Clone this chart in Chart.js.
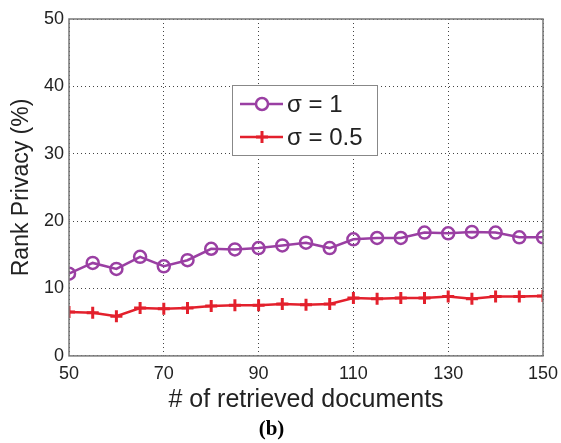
<!DOCTYPE html>
<html>
<head>
<meta charset="utf-8">
<script src="https://cdn.jsdelivr.net/npm/chart.js@4.4.1/dist/chart.umd.min.js"></script>
<style>
  html, body { margin: 0; padding: 0; background: #fff; }
  #wrap { width: 561px; height: 443px; }
</style>
</head>
<body>
<div id="wrap"><canvas id="privacyChart"></canvas></div>
<script>
// values
const docs = [50, 55, 60, 65, 70, 75, 80, 85, 90, 95, 100, 105, 110, 115, 120, 125, 130, 135, 140, 145, 150];
const sigmaOne = [12.2, 13.8, 12.9, 14.7, 13.3, 14.2, 15.9, 15.8, 16.0, 16.4, 16.8, 16.0, 17.3, 17.5, 17.5, 18.3, 18.2, 18.4, 18.3, 17.6, 17.6];
const sigmaHalf = [6.5, 6.4, 5.9, 7.1, 7.0, 7.1, 7.4, 7.5, 7.5, 7.7, 7.6, 7.7, 8.6, 8.5, 8.6, 8.6, 8.8, 8.5, 8.8, 8.8, 8.9];
const seriesLabels = ['σ = 1', 'σ = 0.5'];
const xTicks = [50, 70, 90, 110, 130, 150];
const yTicks = [0, 10, 20, 30, 40, 50];

const purple = '#9a3fa3';
const red = '#e3202c';

function toPoints(values) {
  return values.map((v, i) => ({ x: docs[i], y: v }));
}

// box round the plot area, like matlab "box on"
const boxPlugin = {
  id: 'box',
  afterDatasetsDraw(chart) {
    const { ctx, chartArea: a } = chart;
    ctx.save();
    ctx.strokeStyle = '#777';
    ctx.lineWidth = 1.5;
    ctx.strokeRect(a.left, a.top, a.right - a.left, a.bottom - a.top);
    ctx.restore();
  }
};

// legend box inside the plot
const legendPlugin = {
  id: 'insideLegend',
  afterDraw(chart) {
    const { ctx } = chart;
    const x0 = 232, y0 = 85, w = 145, h = 70;
    ctx.save();
    ctx.fillStyle = '#fff';
    ctx.fillRect(x0, y0, w, h);
    ctx.strokeStyle = '#888';
    ctx.lineWidth = 1;
    ctx.strokeRect(x0 + 0.5, y0 + 0.5, w, h);
    chart.data.datasets.forEach((ds, i) => {
      const y = y0 + 19 + i * 33;
      ctx.strokeStyle = ds.borderColor;
      ctx.lineWidth = ds.borderWidth;
      ctx.beginPath();
      ctx.moveTo(x0 + 8, y);
      ctx.lineTo(x0 + 51, y);
      ctx.stroke();
      ctx.lineWidth = ds.pointBorderWidth;
      Chart.helpers.drawPoint(ctx, {
        pointStyle: ds.pointStyle,
        radius: ds.pointRadius,
        rotation: 0,
        borderWidth: ds.pointBorderWidth
      }, x0 + 30, y);
      ctx.fillStyle = '#222';
      ctx.font = '24px "Liberation Sans", Arial, sans-serif';
      ctx.textBaseline = 'middle';
      ctx.fillText(ds.label, x0 + 55, y + 1);
    });
    ctx.restore();
  }
};

const tickFont = { family: '"Liberation Sans", Arial, sans-serif', size: 18 };
const xTitleFont = { family: '"Liberation Sans", Arial, sans-serif', size: 25, lineHeight: 1 };
const yTitleFont = { family: '"Liberation Sans", Arial, sans-serif', size: 23, lineHeight: 1 };

new Chart(document.getElementById('privacyChart'), {
  type: 'line',
  data: {
    datasets: [
      {
        label: seriesLabels[0],
        data: toPoints(sigmaOne),
        borderColor: purple,
        borderWidth: 2.5,
        pointStyle: 'circle',
        pointRadius: 6,
        pointBorderWidth: 2.5,
        pointBorderColor: purple,
        pointBackgroundColor: 'rgba(0,0,0,0)',
        fill: false
      },
      {
        label: seriesLabels[1],
        data: toPoints(sigmaHalf),
        borderColor: red,
        borderWidth: 2.5,
        pointStyle: 'cross',
        pointRadius: 6,
        pointBorderWidth: 3,
        pointBorderColor: red,
        fill: false
      }
    ]
  },
  options: {
    responsive: true,
    maintainAspectRatio: false,
    animation: false,
    layout: { padding: { top: 19, right: 18, left: 0, bottom: 0 } },
    plugins: {
      legend: { display: false },
      tooltip: { enabled: false },
      subtitle: {
        display: true,
        position: 'bottom',
        text: '(b)',
        color: '#000',
        font: { family: '"Liberation Serif", "Times New Roman", serif', size: 21, weight: 'bold', lineHeight: 1.1 },
        padding: { top: 4, bottom: 2 }
      }
    },
    scales: {
      x: {
        type: 'linear',
        min: 50,
        max: 150,
        afterBuildTicks: (scale) => { scale.ticks = xTicks.map(v => ({ value: v })); },
        afterFit: (scale) => {
          scale.height = 58;
          // keep the plot edges fixed, labels may hang over
          scale.paddingLeft = 0;
          scale.paddingRight = 0;
        },
        ticks: { color: '#222', font: tickFont, padding: 7, maxRotation: 0 },
        grid: { color: '#444', lineWidth: 1, drawTicks: false },
        border: { display: false, dash: [1, 3] },
        title: { display: true, text: '# of retrieved documents', color: '#222', font: xTitleFont, padding: { top: 0, bottom: 1 } }
      },
      y: {
        min: 0,
        max: 50,
        afterBuildTicks: (scale) => { scale.ticks = yTicks.map(v => ({ value: v })); },
        afterFit: (scale) => {
          scale.width = 69;
          scale.paddingTop = 0;
          scale.paddingBottom = 0;
        },
        ticks: { color: '#222', font: tickFont, padding: 5 },
        grid: { color: '#444', lineWidth: 1, drawTicks: false },
        border: { display: false, dash: [1, 3] },
        title: { display: true, text: 'Rank Privacy (%)', color: '#222', font: yTitleFont, padding: { top: 10, bottom: 4 } }
      }
    }
  },
  plugins: [boxPlugin, legendPlugin]
});
</script>
</body>
</html>
